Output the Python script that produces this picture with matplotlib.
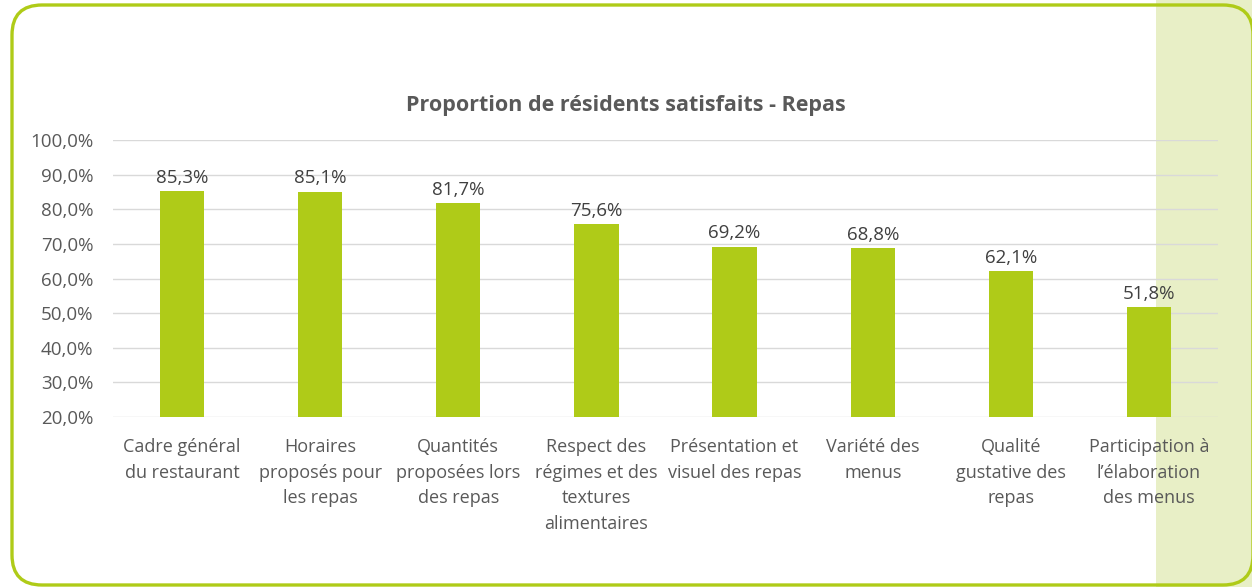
import matplotlib.pyplot as plt
from matplotlib.patches import FancyBboxPatch, Rectangle
from matplotlib.ticker import FuncFormatter

plt.rcParams['font.family'] = ['Open Sans', 'DejaVu Sans']

categories = ['Cadre général\ndu restaurant', 'Horaires\nproposés pour\nles repas',
              'Quantités\nproposées lors\ndes repas', 'Respect des\nrégimes et des\ntextures\nalimentaires',
              'Présentation et\nvisuel des repas', 'Variété des\nmenus',
              'Qualité\ngustative des\nrepas', 'Participation à\nl’élaboration\ndes menus']
values = [85.3, 85.1, 81.7, 75.6, 69.2, 68.8, 62.1, 51.8]
yticks = [20, 30, 40, 50, 60, 70, 80, 90, 100]

green = '#AFCB18'
W, H = 1252, 587
fig = plt.figure(figsize=(W/100, H/100), dpi=100)

# background: side band + rounded frame
bg = fig.add_axes([0, 0, 1, 1], zorder=0)
bg.set_xlim(0, W)
bg.set_ylim(H, 0)
bg.axis('off')
bg.add_patch(Rectangle((1156, 0), W-1156, H, color='#E8EFC6', lw=0))
bg.add_patch(FancyBboxPatch((42, 35), 1181, 520, boxstyle='round,pad=30',
                            fill=False, ec=green, lw=2.4))
bg.text(626, 106, 'Proportion de résidents satisfaits - Repas', fontsize=15.5, fontweight='bold',
        color='#595959', ha='center', va='center')

ax = fig.add_axes([113/W, 1-417/H, (1218-113)/W, (417-140)/H], zorder=1)
ax.patch.set_alpha(0)
x = range(len(values))
ax.bar(x, values, width=0.32, color=green, zorder=3)
for xi, v in zip(x, values):
    ax.text(xi, v + 1.2, ('%.1f%%' % v).replace('.', ','), ha='center', va='bottom',
            fontsize=13.5, color='#404040')

ax.set_ylim(20, 100)
ax.set_xlim(-0.5, len(values)-0.5)
ax.set_yticks(yticks)
ax.yaxis.set_major_formatter(FuncFormatter(lambda v, p: ('%.1f%%' % v).replace('.', ',')))
ax.set_xticks(list(x))
ax.set_xticklabels(categories, fontsize=13, color='#595959', linespacing=1.55)
ax.tick_params(axis='y', labelsize=13.5, labelcolor='#595959', length=0, pad=14)
ax.tick_params(axis='x', length=0, pad=15)
ax.grid(axis='y', color='#D9D9D9', lw=1, zorder=0)
for s in ax.spines.values():
    s.set_visible(False)

fig.savefig('out.png', dpi=100)
